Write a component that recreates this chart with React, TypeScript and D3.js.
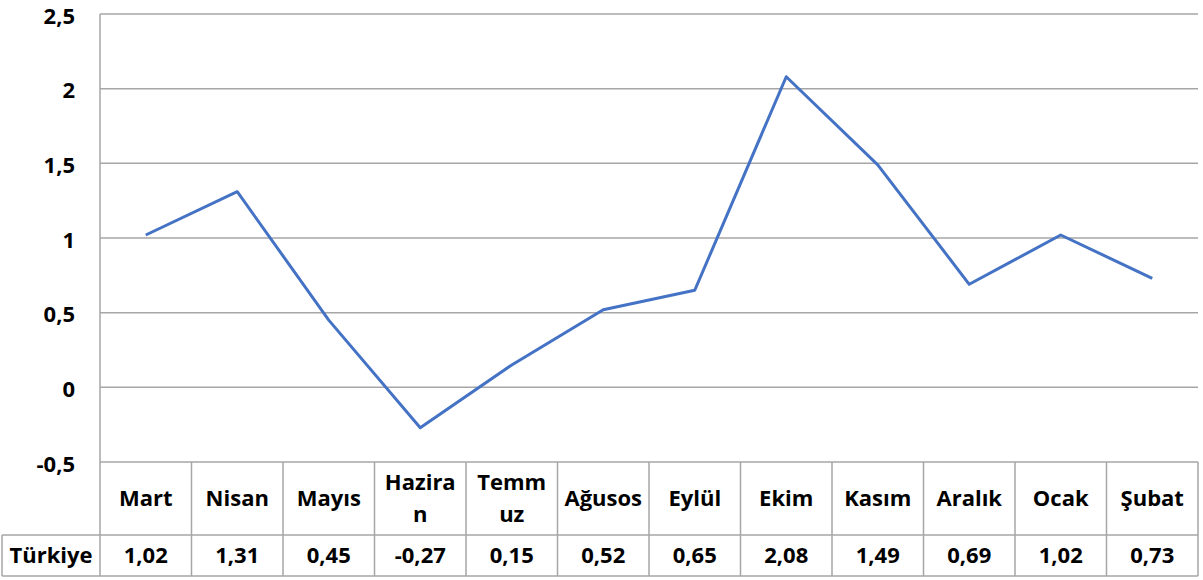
import React from 'react';
import * as d3 from 'd3';

// aylar (tabloda görünen kırılımlarla)
const months = ['Mart', 'Nisan', 'Mayıs', 'Hazira\nn', 'Temm\nuz', 'Ağusos', 'Eylül', 'Ekim', 'Kasım', 'Aralık', 'Ocak', 'Şubat'];
const turkiye = [1.02, 1.31, 0.45, -0.27, 0.15, 0.52, 0.65, 2.08, 1.49, 0.69, 1.02, 0.73];
const seriesName = 'Türkiye';
const yTicks = [-0.5, 0, 0.5, 1, 1.5, 2, 2.5];

const W = 1203;
const H = 580;
const left = 100;
const right = 1198;
const top = 14;
const bottom = 462;
const catRowBottom = 535;
const valRowBottom = 576;
const font = "'Open Sans', sans-serif";
const fs = 22;
// virgüllü ondalık, normal tire ile
const fmt = (v: number) => v.toFixed(2).replace('.', ',');
const fmtTick = (v: number) => String(v).replace('.', ',');

const App = () => {
  const x = d3.scaleBand<number>().domain(d3.range(months.length)).range([left, right]);
  const y = d3.scaleLinear().domain([-0.5, 2.5]).range([bottom, top]);
  const line = d3
    .line<number>()
    .x((d, i) => (x(i) as number) + x.bandwidth() / 2)
    .y(d => y(d));

  const grid = '#A6A6A6';

  return (
    <svg width={W} height={H} style={{ position: 'absolute', left: 0, top: 0, background: '#fff' }}>
      {yTicks.map(t => (
        <g key={t}>
          <line x1={left} x2={right} y1={y(t)} y2={y(t)} stroke={grid} strokeWidth={1.5} />
          <text x={75} y={y(t) + 2} dy="0.35em" textAnchor="end" fontFamily={font} fontWeight="bold" fontSize={fs}>
            {fmtTick(t)}
          </text>
        </g>
      ))}
      {/* eksen ve tablo çizgileri */}
      <line x1={left} x2={left} y1={top} y2={valRowBottom} stroke={grid} strokeWidth={1.5} />
      <line x1={2} x2={right} y1={catRowBottom} y2={catRowBottom} stroke={grid} strokeWidth={1.5} />
      <line x1={2} x2={right} y1={valRowBottom} y2={valRowBottom} stroke={grid} strokeWidth={1.5} />
      <line x1={2} x2={2} y1={catRowBottom} y2={valRowBottom} stroke={grid} strokeWidth={1.5} />
      {months.map((m, i) => {
        const x1 = (x(i) as number) + x.bandwidth();
        return <line key={'v' + i} x1={x1} x2={x1} y1={bottom} y2={valRowBottom} stroke={grid} strokeWidth={1.5} />;
      })}
      {months.map((m, i) => {
        const cx = (x(i) as number) + x.bandwidth() / 2;
        const lines = m.split('\n');
        const mid = (bottom + catRowBottom) / 2;
        return (
          <text key={'m' + i} x={cx} textAnchor="middle" fontFamily={font} fontWeight="bold" fontSize={fs}>
            {lines.map((l, j) => (
              <tspan key={j} x={cx} y={mid + (j - (lines.length - 1) / 2) * 32} dy="0.35em">
                {l}
              </tspan>
            ))}
          </text>
        );
      })}
      <text x={51} y={(catRowBottom + valRowBottom) / 2} dy="0.35em" textAnchor="middle" fontFamily={font} fontWeight="bold" fontSize={fs}>
        {seriesName}
      </text>
      {turkiye.map((v, i) => (
        <text
          key={'t' + i}
          x={(x(i) as number) + x.bandwidth() / 2}
          y={(catRowBottom + valRowBottom) / 2}
          dy="0.35em"
          textAnchor="middle"
          fontFamily={font}
          fontWeight="bold"
          fontSize={fs}
        >
          {fmt(v)}
        </text>
      ))}
      <path d={line(turkiye) || ''} fill="none" stroke="#4472C4" strokeWidth={3} strokeLinejoin="round" />
    </svg>
  );
};

export default App;
